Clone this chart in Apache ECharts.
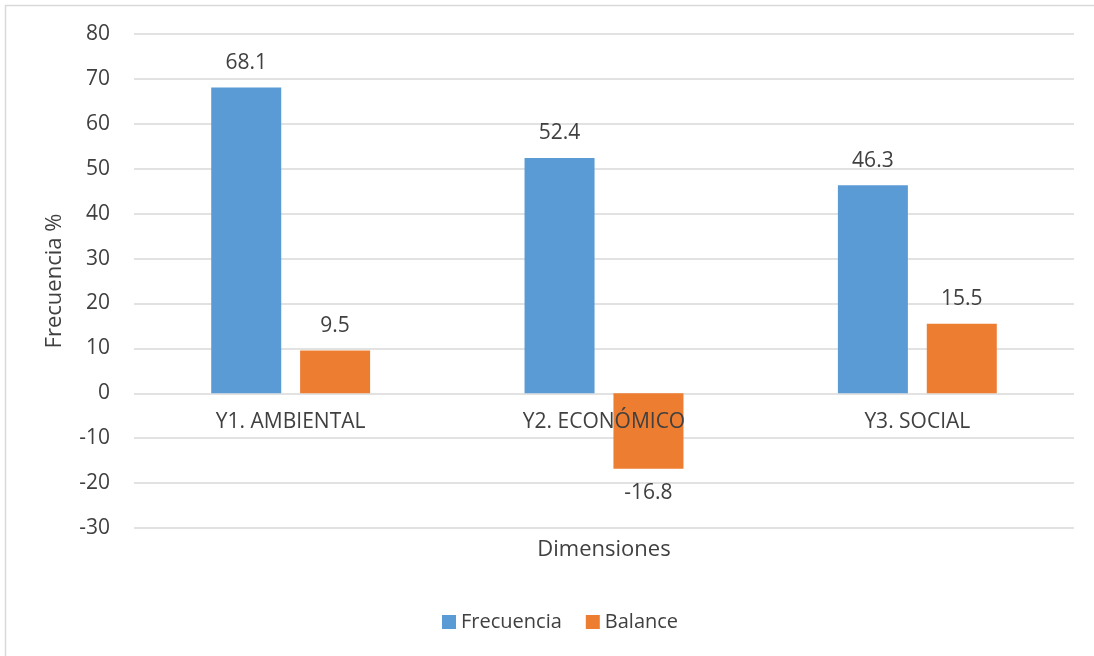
<!DOCTYPE html>
<html><head><meta charset="utf-8">
<script src="https://cdn.jsdelivr.net/npm/echarts@6/dist/echarts.min.js"></script>
<style>html,body{margin:0;padding:0;background:#fff}#c{width:1094px;height:656px}</style>
</head><body><div id="c"></div>
<script>
const categories = ['Y1. AMBIENTAL', 'Y2. ECONÓMICO', 'Y3. SOCIAL'];
const frecuencia = [68.1, 52.4, 46.3];
const balance = [9.5, -16.8, 15.5];
const yTicks = { min: -30, max: 80, interval: 10 };

const FONT = 'Open Sans';
const TXT = '#404040';
function withLabels(arr) {
  return arr.map(v => ({ value: v, label: { position: v < 0 ? 'bottom' : 'top' } }));
}
const chart = echarts.init(document.getElementById('c'));
chart.setOption({
  animation: false,
  textStyle: { fontFamily: FONT },
  graphic: [{ type: 'rect', shape: { x: 5.5, y: 5.5, width: 1200, height: 800 }, style: { fill: 'none', stroke: '#d9d9d9', lineWidth: 1.5 }, silent: true }],
  grid: { left: 134, right: 20, top: 34, bottom: 128, outerBoundsMode: 'none', containLabel: false },
  legend: {
    left: 437, top: 607, itemWidth: 14, itemHeight: 14, itemGap: 24,
    icon: 'rect', textStyle: { fontFamily: FONT, fontSize: 20, color: TXT }
  },
  xAxis: {
    type: 'category', data: categories, position: 'bottom', z: 5,
    axisLine: { show: false, onZero: false }, axisTick: { show: false },
    axisLabel: { fontFamily: FONT, fontSize: 21, color: TXT, margin: 18 },
    name: 'Dimensiones', nameLocation: 'middle', nameGap: 145,
    nameTextStyle: { fontFamily: FONT, fontSize: 22, color: TXT }
  },
  yAxis: {
    type: 'value', min: yTicks.min, max: yTicks.max, interval: yTicks.interval,
    axisLine: { show: false }, axisTick: { show: false },
    axisLabel: { fontFamily: FONT, fontSize: 21, color: TXT, margin: 24 },
    splitLine: { lineStyle: { color: '#d9d9d9', width: 1.5 } },
    name: 'Frecuencia %', nameLocation: 'middle', nameGap: 68, nameRotate: 90,
    nameTextStyle: { fontFamily: FONT, fontSize: 22, color: TXT }
  },
  series: [
    { name: 'Frecuencia', type: 'bar', data: withLabels(frecuencia), barWidth: 70, barGap: '27%',
      itemStyle: { color: '#5B9BD5' },
      label: { show: true, distance: 14, fontFamily: FONT, fontSize: 21, color: TXT } },
    { name: 'Balance', type: 'bar', data: withLabels(balance), barWidth: 70,
      itemStyle: { color: '#ED7D31' },
      label: { show: true, distance: 14, fontFamily: FONT, fontSize: 21, color: TXT } }
  ]
});
// move the category axis (labels + name) up to the value axis' zero line
const zeroPx = chart.convertToPixel({ yAxisIndex: 0 }, 0);
const bottomPx = chart.convertToPixel({ yAxisIndex: 0 }, yTicks.min);
chart.setOption({ xAxis: { offset: -(bottomPx - zeroPx), nameGap: 145 } });
</script></body></html>
